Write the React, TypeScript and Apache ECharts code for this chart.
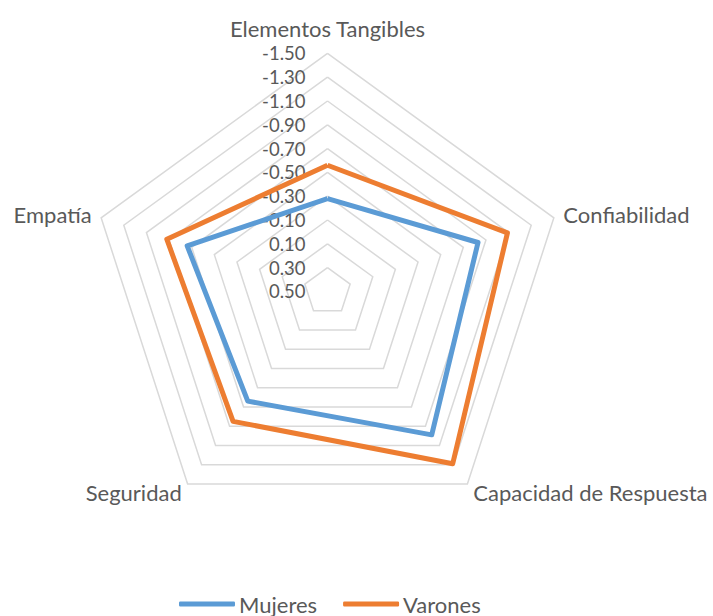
import React, { useEffect, useRef } from "react";
import * as echarts from "echarts";

// listed clockwise from the top, as in the reference
const dimensions = [
  "Elementos Tangibles",
  "Confiabilidad",
  "Capacidad de Respuesta",
  "Seguridad",
  "Empatía",
];
const seriesNames = ["Mujeres", "Varones"];
const mujeres = [-0.28, -0.83, -0.99, -0.64, -0.74];
const varones = [-0.56, -1.09, -1.29, -0.85, -0.92];
// axis runs (reversed) from 0.50 at the centre to -1.50 at the rim, step 0.20
const axisCentre = 0.5;
const axisRim = -1.5;
const axisStep = 0.2;

const FONT = "Lato";
const TEXT = "#595959";

export default function App() {
  const ref = useRef<HTMLDivElement>(null);
  useEffect(() => {
    if (!ref.current) return;
    const chart = echarts.init(ref.current, null, { renderer: "svg" });
    const span = axisCentre - axisRim;
    const toPlot = (v: number) => axisCentre - v;
    const splits = Math.round(span / axisStep);
    // ECharts lays indicators out counter-clockwise: reorder to get clockwise
    const order = dimensions.map((_, i) => (i === 0 ? 0 : dimensions.length - i));
    const reorder = <T,>(arr: T[]) => order.map((k) => arr[k]);
    chart.setOption({
      animation: false,
      backgroundColor: "#ffffff",
      legend: {
        data: seriesNames,
        left: 179,
        top: 593,
        padding: 0,
        icon: "roundRect",
        itemWidth: 56,
        itemHeight: 5,
        itemGap: 26,
        textStyle: { color: TEXT, fontSize: 22, fontFamily: FONT, padding: [0, 0, 0, -1] },
      },
      radar: {
        center: [327.5, 291.4],
        radius: 238,
        startAngle: 90,
        splitNumber: splits,
        shape: "polygon",
        axisNameGap: 10,
        axisName: { color: TEXT, fontSize: 22, fontFamily: FONT },
        splitLine: { lineStyle: { color: "#d9d9d9", width: 1.5 } },
        splitArea: { show: false },
        axisLine: { show: false },
        axisTick: { show: false },
        axisLabel: {
          show: false,
          color: TEXT,
          fontSize: 18.5,
          fontFamily: FONT,
          margin: 22,
          formatter: (v: number) => (axisCentre - v).toFixed(2),
        },
        indicator: reorder(dimensions).map((name, i) =>
          i === 0
            ? { name, min: 0, max: span, nameGap: 14, axisLabel: { show: true } }
            : { name, min: 0, max: span }
        ),
      },
      series: [
        {
          type: "radar",
          symbol: "none",
          data: [
            {
              name: seriesNames[0],
              value: reorder(mujeres).map(toPlot),
              lineStyle: { color: "#5B9BD5", width: 5 },
              itemStyle: { color: "#5B9BD5" },
            },
            {
              name: seriesNames[1],
              value: reorder(varones).map(toPlot),
              lineStyle: { color: "#ED7D31", width: 5 },
              itemStyle: { color: "#ED7D31" },
            },
          ],
        },
      ],
    });
    return () => chart.dispose();
  }, []);
  return (
    <div
      ref={ref}
      style={{ position: "absolute", left: 0, top: 0, width: 713, height: 616 }}
    />
  );
}
